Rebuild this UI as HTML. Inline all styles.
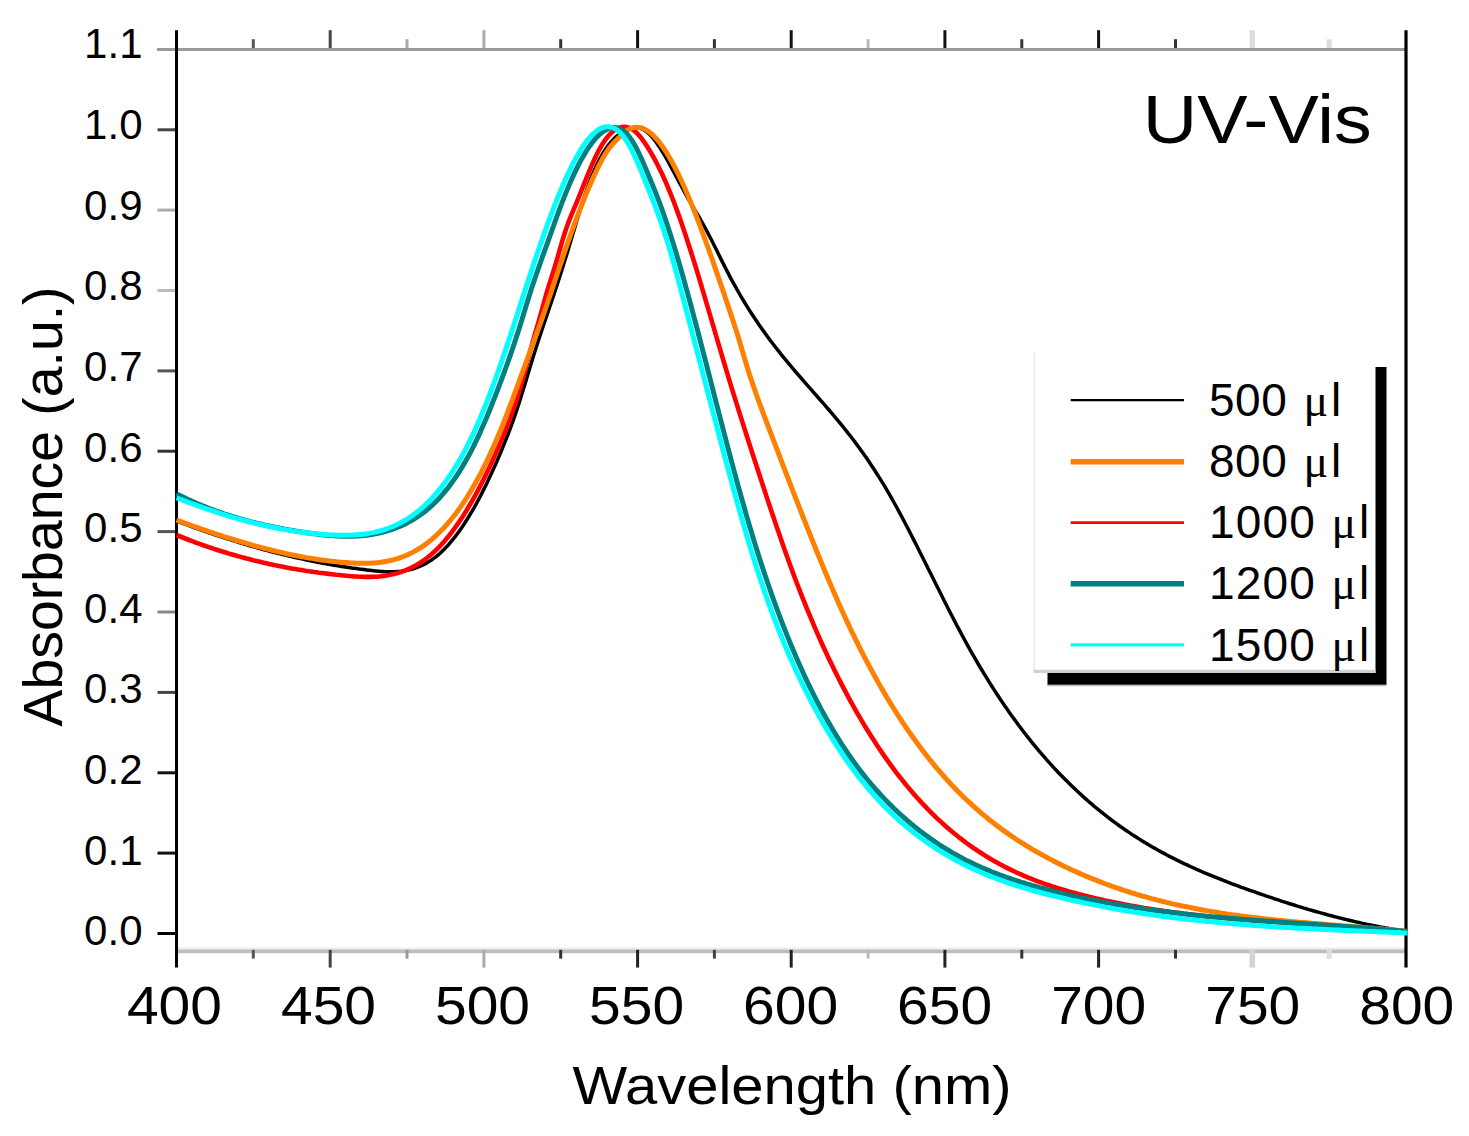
<!DOCTYPE html>
<html lang="en">
<head>
<meta charset="utf-8">
<title>UV-Vis</title>
<style>html,body{margin:0;padding:0;background:#fff;}svg{display:block;}</style>
</head>
<body>
<svg width="1469" height="1136" viewBox="0 0 1469 1136" font-family="'Liberation Sans', sans-serif" fill="#000">
<rect x="0" y="0" width="1469" height="1136" fill="#fff"/>
<line x1="157" y1="49.5" x2="1406.0" y2="49.5" stroke="#9a9a9a" stroke-width="3"/>
<rect x="176.5" y="947.6" width="1229.5" height="2.2" fill="#ececec"/>
<rect x="176.5" y="949.6" width="1229.5" height="3.6" fill="#bdbdbd"/>
<line x1="253.3" y1="39.2" x2="253.3" y2="48.0" stroke="#555" stroke-width="3"/>
<line x1="253.3" y1="949.8" x2="253.3" y2="958.6" stroke="#555" stroke-width="3"/>
<line x1="330.2" y1="30.2" x2="330.2" y2="48.0" stroke="#444" stroke-width="3"/>
<line x1="330.2" y1="949.8" x2="330.2" y2="967.6" stroke="#444" stroke-width="3"/>
<line x1="407.0" y1="39.2" x2="407.0" y2="48.0" stroke="#aaa" stroke-width="3"/>
<line x1="407.0" y1="949.8" x2="407.0" y2="958.6" stroke="#999" stroke-width="3"/>
<line x1="483.9" y1="30.2" x2="483.9" y2="48.0" stroke="#aaa" stroke-width="3"/>
<line x1="483.9" y1="949.8" x2="483.9" y2="967.6" stroke="#aaa" stroke-width="3"/>
<line x1="560.7" y1="39.2" x2="560.7" y2="48.0" stroke="#333" stroke-width="3"/>
<line x1="560.7" y1="949.8" x2="560.7" y2="958.6" stroke="#333" stroke-width="3"/>
<line x1="637.6" y1="30.2" x2="637.6" y2="48.0" stroke="#111" stroke-width="3"/>
<line x1="637.6" y1="949.8" x2="637.6" y2="967.6" stroke="#222" stroke-width="3"/>
<line x1="714.4" y1="39.2" x2="714.4" y2="48.0" stroke="#333" stroke-width="3"/>
<line x1="714.4" y1="949.8" x2="714.4" y2="958.6" stroke="#444" stroke-width="3"/>
<line x1="791.2" y1="30.2" x2="791.2" y2="48.0" stroke="#111" stroke-width="3"/>
<line x1="791.2" y1="949.8" x2="791.2" y2="967.6" stroke="#222" stroke-width="3"/>
<line x1="868.1" y1="39.2" x2="868.1" y2="48.0" stroke="#bbb" stroke-width="3"/>
<line x1="868.1" y1="949.8" x2="868.1" y2="958.6" stroke="#bbb" stroke-width="3"/>
<line x1="944.9" y1="30.2" x2="944.9" y2="48.0" stroke="#111" stroke-width="3"/>
<line x1="944.9" y1="949.8" x2="944.9" y2="967.6" stroke="#222" stroke-width="3"/>
<line x1="1021.8" y1="39.2" x2="1021.8" y2="48.0" stroke="#333" stroke-width="3"/>
<line x1="1021.8" y1="949.8" x2="1021.8" y2="958.6" stroke="#333" stroke-width="3"/>
<line x1="1098.6" y1="30.2" x2="1098.6" y2="48.0" stroke="#111" stroke-width="3"/>
<line x1="1098.6" y1="949.8" x2="1098.6" y2="967.6" stroke="#222" stroke-width="3"/>
<line x1="1175.5" y1="39.2" x2="1175.5" y2="48.0" stroke="#333" stroke-width="3"/>
<line x1="1175.5" y1="949.8" x2="1175.5" y2="958.6" stroke="#333" stroke-width="3"/>
<line x1="1252.3" y1="30.2" x2="1252.3" y2="48.0" stroke="#dcdcdc" stroke-width="5.5"/>
<line x1="1252.3" y1="949.8" x2="1252.3" y2="967.6" stroke="#d4d4d4" stroke-width="5.5"/>
<line x1="1329.2" y1="39.2" x2="1329.2" y2="48.0" stroke="#dcdcdc" stroke-width="5"/>
<line x1="1329.2" y1="949.8" x2="1329.2" y2="958.6" stroke="#dedede" stroke-width="5"/>
<line x1="157.5" y1="129.8" x2="176.5" y2="129.8" stroke="#444" stroke-width="3"/>
<line x1="157.5" y1="210.1" x2="176.5" y2="210.1" stroke="#aaa" stroke-width="3"/>
<line x1="157.5" y1="290.5" x2="176.5" y2="290.5" stroke="#bbb" stroke-width="3"/>
<line x1="157.5" y1="370.9" x2="176.5" y2="370.9" stroke="#555" stroke-width="3"/>
<line x1="157.5" y1="451.2" x2="176.5" y2="451.2" stroke="#333" stroke-width="3"/>
<line x1="157.5" y1="531.6" x2="176.5" y2="531.6" stroke="#555" stroke-width="3"/>
<line x1="157.5" y1="612.0" x2="176.5" y2="612.0" stroke="#888" stroke-width="3"/>
<line x1="157.5" y1="692.4" x2="176.5" y2="692.4" stroke="#444" stroke-width="3"/>
<line x1="157.5" y1="772.8" x2="176.5" y2="772.8" stroke="#111" stroke-width="3"/>
<line x1="157.5" y1="853.1" x2="176.5" y2="853.1" stroke="#111" stroke-width="3"/>
<line x1="157.5" y1="933.5" x2="176.5" y2="933.5" stroke="#000" stroke-width="3"/>
<line x1="176.5" y1="30.2" x2="176.5" y2="967.6" stroke="#000" stroke-width="3"/>
<line x1="1406.0" y1="30.2" x2="1406.0" y2="967.6" stroke="#000" stroke-width="3.2"/>
<path d="M176.5,521.0 L179.0,521.9 L181.5,522.9 L184.0,523.8 L186.5,524.7 L189.0,525.7 L191.5,526.6 L194.0,527.5 L196.5,528.4 L199.0,529.3 L201.5,530.2 L204.0,531.0 L206.5,531.9 L209.0,532.8 L211.5,533.6 L214.0,534.5 L216.5,535.3 L219.0,536.1 L221.5,536.9 L224.0,537.8 L226.5,538.6 L229.0,539.4 L231.5,540.2 L234.0,540.9 L236.5,541.7 L239.0,542.5 L241.5,543.2 L244.0,544.0 L246.5,544.7 L249.0,545.5 L251.5,546.2 L254.0,546.9 L256.5,547.6 L259.0,548.3 L261.5,549.0 L264.0,549.7 L266.5,550.4 L269.0,551.0 L271.5,551.7 L274.0,552.3 L276.5,553.0 L279.0,553.6 L281.5,554.2 L284.0,554.8 L286.5,555.4 L289.0,556.0 L291.5,556.6 L294.0,557.2 L296.5,557.8 L299.0,558.3 L301.5,558.9 L304.0,559.4 L306.5,560.0 L309.0,560.5 L311.5,561.0 L314.0,561.5 L316.5,562.0 L319.0,562.5 L321.5,563.0 L324.0,563.4 L326.5,563.9 L329.0,564.3 L331.5,564.8 L334.0,565.2 L336.5,565.6 L339.0,566.0 L341.5,566.4 L344.0,566.8 L346.5,567.2 L349.0,567.6 L351.5,568.0 L354.0,568.3 L356.5,568.6 L359.0,569.0 L361.5,569.3 L364.0,569.6 L366.5,569.9 L369.0,570.2 L371.5,570.5 L374.0,570.8 L376.5,571.0 L379.0,571.2 L381.5,571.4 L384.0,571.6 L386.5,571.7 L389.0,571.8 L391.5,571.8 L394.0,571.7 L396.5,571.6 L399.0,571.4 L401.5,571.2 L404.0,570.8 L406.5,570.4 L409.0,569.9 L411.5,569.3 L414.0,568.5 L416.5,567.7 L419.0,566.7 L421.5,565.7 L424.0,564.5 L426.5,563.1 L429.0,561.6 L431.5,560.0 L434.0,558.2 L436.5,556.3 L439.0,554.2 L441.5,551.9 L444.0,549.5 L446.5,546.9 L449.0,544.2 L451.5,541.2 L454.0,538.1 L456.5,534.9 L459.0,531.5 L461.5,527.9 L464.0,524.2 L466.5,520.3 L469.0,516.3 L471.5,512.1 L474.0,507.8 L476.5,503.3 L479.0,498.6 L481.5,493.9 L484.0,488.9 L486.5,483.9 L489.0,478.6 L491.5,473.3 L494.0,467.8 L496.5,462.2 L499.0,456.4 L501.5,450.5 L504.0,444.4 L506.5,438.2 L509.0,431.8 L511.5,425.1 L514.0,418.2 L516.5,410.9 L519.0,403.3 L521.5,395.3 L524.0,387.2 L526.5,378.9 L529.0,370.6 L531.5,362.4 L534.0,354.3 L536.5,346.5 L539.0,338.8 L541.5,331.3 L544.0,323.8 L546.5,316.4 L549.0,309.0 L551.5,301.6 L554.0,294.2 L556.5,286.7 L559.0,279.0 L561.5,271.2 L564.0,263.3 L566.5,255.3 L569.0,247.0 L571.5,238.6 L574.0,230.2 L576.5,221.7 L579.0,213.4 L581.5,205.3 L584.0,197.5 L586.5,190.2 L589.0,183.3 L591.5,176.9 L594.0,170.9 L596.5,165.4 L599.0,160.4 L601.5,155.7 L604.0,151.5 L606.5,147.8 L609.0,144.4 L611.5,141.4 L614.0,138.7 L616.5,136.4 L619.0,134.4 L621.5,132.7 L624.0,131.2 L626.5,130.0 L629.0,129.0 L631.5,128.3 L634.0,127.9 L636.5,127.8 L639.0,128.1 L641.5,128.8 L644.0,130.0 L646.5,131.7 L649.0,133.8 L651.5,136.4 L654.0,139.4 L656.5,142.7 L659.0,146.4 L661.5,150.3 L664.0,154.4 L666.5,158.7 L669.0,163.2 L671.5,167.8 L674.0,172.5 L676.5,177.2 L679.0,181.8 L681.5,186.5 L684.0,191.1 L686.5,195.7 L689.0,200.1 L691.5,204.4 L694.0,208.7 L696.5,212.8 L699.0,217.0 L701.5,221.3 L704.0,225.8 L706.5,230.4 L709.0,235.2 L711.5,240.0 L714.0,245.0 L716.5,250.0 L719.0,255.1 L721.5,260.1 L724.0,265.1 L726.5,270.0 L729.0,274.9 L731.5,279.6 L734.0,284.2 L736.5,288.6 L739.0,293.0 L741.5,297.3 L744.0,301.5 L746.5,305.6 L749.0,309.6 L751.5,313.5 L754.0,317.3 L756.5,321.0 L759.0,324.7 L761.5,328.3 L764.0,331.8 L766.5,335.3 L769.0,338.7 L771.5,342.0 L774.0,345.3 L776.5,348.5 L779.0,351.7 L781.5,354.8 L784.0,357.9 L786.5,360.9 L789.0,363.9 L791.5,366.9 L794.0,369.8 L796.5,372.8 L799.0,375.7 L801.5,378.5 L804.0,381.4 L806.5,384.3 L809.0,387.1 L811.5,389.9 L814.0,392.8 L816.5,395.6 L819.0,398.5 L821.5,401.3 L824.0,404.2 L826.5,407.1 L829.0,410.0 L831.5,412.9 L834.0,415.8 L836.5,418.8 L839.0,421.8 L841.5,424.9 L844.0,428.0 L846.5,431.1 L849.0,434.3 L851.5,437.5 L854.0,440.8 L856.5,444.1 L859.0,447.5 L861.5,451.0 L864.0,454.5 L866.5,458.1 L869.0,461.7 L871.5,465.5 L874.0,469.3 L876.5,473.2 L879.0,477.1 L881.5,481.1 L884.0,485.2 L886.5,489.4 L889.0,493.7 L891.5,498.1 L894.0,502.5 L896.5,507.0 L899.0,511.6 L901.5,516.3 L904.0,521.0 L906.5,525.8 L909.0,530.6 L911.5,535.5 L914.0,540.4 L916.5,545.3 L919.0,550.3 L921.5,555.2 L924.0,560.2 L926.5,565.3 L929.0,570.3 L931.5,575.3 L934.0,580.3 L936.5,585.3 L939.0,590.3 L941.5,595.3 L944.0,600.3 L946.5,605.3 L949.0,610.2 L951.5,615.0 L954.0,619.9 L956.5,624.7 L959.0,629.4 L961.5,634.1 L964.0,638.8 L966.5,643.4 L969.0,647.9 L971.5,652.3 L974.0,656.7 L976.5,661.0 L979.0,665.3 L981.5,669.5 L984.0,673.6 L986.5,677.7 L989.0,681.8 L991.5,685.7 L994.0,689.6 L996.5,693.5 L999.0,697.3 L1001.5,701.0 L1004.0,704.7 L1006.5,708.3 L1009.0,711.9 L1011.5,715.5 L1014.0,718.9 L1016.5,722.3 L1019.0,725.7 L1021.5,729.0 L1024.0,732.3 L1026.5,735.5 L1029.0,738.7 L1031.5,741.8 L1034.0,744.9 L1036.5,747.9 L1039.0,750.9 L1041.5,753.8 L1044.0,756.7 L1046.5,759.6 L1049.0,762.4 L1051.5,765.1 L1054.0,767.9 L1056.5,770.5 L1059.0,773.2 L1061.5,775.8 L1064.0,778.3 L1066.5,780.8 L1069.0,783.3 L1071.5,785.7 L1074.0,788.1 L1076.5,790.5 L1079.0,792.8 L1081.5,795.1 L1084.0,797.4 L1086.5,799.6 L1089.0,801.8 L1091.5,803.9 L1094.0,806.1 L1096.5,808.1 L1099.0,810.2 L1101.5,812.2 L1104.0,814.2 L1106.5,816.1 L1109.0,818.1 L1111.5,820.0 L1114.0,821.8 L1116.5,823.7 L1119.0,825.5 L1121.5,827.2 L1124.0,829.0 L1126.5,830.7 L1129.0,832.4 L1131.5,834.1 L1134.0,835.7 L1136.5,837.3 L1139.0,838.9 L1141.5,840.5 L1144.0,842.0 L1146.5,843.5 L1149.0,845.0 L1151.5,846.5 L1154.0,847.9 L1156.5,849.3 L1159.0,850.7 L1161.5,852.1 L1164.0,853.4 L1166.5,854.8 L1169.0,856.1 L1171.5,857.4 L1174.0,858.6 L1176.5,859.9 L1179.0,861.1 L1181.5,862.4 L1184.0,863.6 L1186.5,864.7 L1189.0,865.9 L1191.5,867.0 L1194.0,868.2 L1196.5,869.3 L1199.0,870.4 L1201.5,871.5 L1204.0,872.6 L1206.5,873.6 L1209.0,874.7 L1211.5,875.7 L1214.0,876.7 L1216.5,877.7 L1219.0,878.7 L1221.5,879.7 L1224.0,880.7 L1226.5,881.7 L1229.0,882.6 L1231.5,883.6 L1234.0,884.5 L1236.5,885.4 L1239.0,886.3 L1241.5,887.3 L1244.0,888.2 L1246.5,889.1 L1249.0,890.0 L1251.5,890.8 L1254.0,891.7 L1256.5,892.6 L1259.0,893.5 L1261.5,894.3 L1264.0,895.2 L1266.5,896.1 L1269.0,896.9 L1271.5,897.7 L1274.0,898.6 L1276.5,899.4 L1279.0,900.2 L1281.5,901.1 L1284.0,901.9 L1286.5,902.7 L1289.0,903.5 L1291.5,904.2 L1294.0,905.0 L1296.5,905.8 L1299.0,906.6 L1301.5,907.3 L1304.0,908.1 L1306.5,908.8 L1309.0,909.6 L1311.5,910.3 L1314.0,911.0 L1316.5,911.7 L1319.0,912.4 L1321.5,913.1 L1324.0,913.8 L1326.5,914.5 L1329.0,915.2 L1331.5,915.8 L1334.0,916.5 L1336.5,917.1 L1339.0,917.8 L1341.5,918.4 L1344.0,919.0 L1346.5,919.6 L1349.0,920.2 L1351.5,920.8 L1354.0,921.4 L1356.5,922.0 L1359.0,922.5 L1361.5,923.1 L1364.0,923.6 L1366.5,924.2 L1369.0,924.7 L1371.5,925.2 L1374.0,925.7 L1376.5,926.2 L1379.0,926.7 L1381.5,927.2 L1384.0,927.6 L1386.5,928.1 L1389.0,928.5 L1391.5,929.0 L1394.0,929.4 L1396.5,929.8 L1399.0,930.2 L1401.5,930.6 L1404.0,931.0 L1406.0,931.2" fill="none" stroke="#000000" stroke-width="3.5" stroke-linejoin="round" stroke-linecap="butt"/>
<path d="M176.5,535.0 L179.0,536.0 L181.5,537.0 L184.0,538.0 L186.5,539.0 L189.0,540.0 L191.5,540.9 L194.0,541.8 L196.5,542.8 L199.0,543.7 L201.5,544.6 L204.0,545.5 L206.5,546.3 L209.0,547.2 L211.5,548.0 L214.0,548.9 L216.5,549.7 L219.0,550.5 L221.5,551.3 L224.0,552.0 L226.5,552.8 L229.0,553.6 L231.5,554.3 L234.0,555.0 L236.5,555.7 L239.0,556.4 L241.5,557.1 L244.0,557.8 L246.5,558.5 L249.0,559.1 L251.5,559.7 L254.0,560.4 L256.5,561.0 L259.0,561.6 L261.5,562.2 L264.0,562.8 L266.5,563.3 L269.0,563.9 L271.5,564.4 L274.0,565.0 L276.5,565.5 L279.0,566.0 L281.5,566.5 L284.0,567.0 L286.5,567.5 L289.0,567.9 L291.5,568.4 L294.0,568.8 L296.5,569.3 L299.0,569.7 L301.5,570.1 L304.0,570.5 L306.5,570.9 L309.0,571.3 L311.5,571.6 L314.0,572.0 L316.5,572.3 L319.0,572.7 L321.5,573.0 L324.0,573.3 L326.5,573.6 L329.0,573.9 L331.5,574.2 L334.0,574.5 L336.5,574.8 L339.0,575.0 L341.5,575.3 L344.0,575.5 L346.5,575.8 L349.0,576.0 L351.5,576.2 L354.0,576.4 L356.5,576.5 L359.0,576.7 L361.5,576.8 L364.0,576.9 L366.5,576.9 L369.0,576.9 L371.5,576.9 L374.0,576.8 L376.5,576.7 L379.0,576.5 L381.5,576.2 L384.0,575.9 L386.5,575.6 L389.0,575.1 L391.5,574.6 L394.0,574.1 L396.5,573.4 L399.0,572.7 L401.5,571.8 L404.0,570.9 L406.5,569.9 L409.0,568.8 L411.5,567.7 L414.0,566.4 L416.5,565.0 L419.0,563.5 L421.5,561.8 L424.0,560.1 L426.5,558.3 L429.0,556.3 L431.5,554.2 L434.0,552.0 L436.5,549.6 L439.0,547.1 L441.5,544.5 L444.0,541.7 L446.5,538.8 L449.0,535.7 L451.5,532.5 L454.0,529.2 L456.5,525.7 L459.0,522.1 L461.5,518.4 L464.0,514.5 L466.5,510.5 L469.0,506.3 L471.5,502.0 L474.0,497.6 L476.5,493.1 L479.0,488.4 L481.5,483.5 L484.0,478.6 L486.5,473.5 L489.0,468.3 L491.5,462.9 L494.0,457.4 L496.5,451.8 L499.0,446.0 L501.5,440.2 L504.0,434.1 L506.5,427.9 L509.0,421.5 L511.5,414.7 L514.0,407.6 L516.5,400.1 L519.0,392.1 L521.5,383.6 L524.0,374.6 L526.5,365.2 L529.0,355.7 L531.5,346.3 L534.0,337.3 L536.5,328.8 L539.0,320.3 L541.5,311.4 L544.0,302.3 L546.5,293.4 L549.0,285.2 L551.5,277.4 L554.0,269.5 L556.5,261.2 L559.0,252.5 L561.5,243.7 L564.0,235.4 L566.5,227.7 L569.0,220.9 L571.5,214.7 L574.0,208.7 L576.5,202.8 L579.0,196.6 L581.5,190.4 L584.0,184.1 L586.5,177.9 L589.0,171.8 L591.5,165.9 L594.0,160.3 L596.5,155.0 L599.0,150.1 L601.5,145.6 L604.0,141.7 L606.5,138.2 L609.0,135.2 L611.5,132.7 L614.0,130.6 L616.5,129.0 L619.0,127.8 L621.5,127.1 L624.0,126.8 L626.5,127.0 L629.0,127.7 L631.5,128.9 L634.0,130.5 L636.5,132.7 L639.0,135.3 L641.5,138.4 L644.0,141.8 L646.5,145.5 L649.0,149.4 L651.5,153.6 L654.0,158.1 L656.5,162.7 L659.0,167.7 L661.5,172.8 L664.0,178.3 L666.5,183.9 L669.0,189.9 L671.5,196.0 L674.0,202.4 L676.5,209.1 L679.0,216.0 L681.5,223.1 L684.0,230.5 L686.5,238.0 L689.0,245.7 L691.5,253.5 L694.0,261.5 L696.5,269.7 L699.0,277.9 L701.5,286.2 L704.0,294.6 L706.5,303.1 L709.0,311.6 L711.5,320.1 L714.0,328.6 L716.5,337.2 L719.0,345.7 L721.5,354.1 L724.0,362.5 L726.5,370.9 L729.0,379.1 L731.5,387.3 L734.0,395.4 L736.5,403.4 L739.0,411.4 L741.5,419.3 L744.0,427.1 L746.5,435.0 L749.0,442.7 L751.5,450.5 L754.0,458.2 L756.5,465.8 L759.0,473.5 L761.5,481.2 L764.0,488.8 L766.5,496.4 L769.0,503.9 L771.5,511.4 L774.0,518.8 L776.5,526.2 L779.0,533.5 L781.5,540.8 L784.0,547.9 L786.5,555.0 L789.0,562.0 L791.5,568.8 L794.0,575.6 L796.5,582.2 L799.0,588.7 L801.5,595.1 L804.0,601.4 L806.5,607.6 L809.0,613.7 L811.5,619.7 L814.0,625.6 L816.5,631.4 L819.0,637.1 L821.5,642.7 L824.0,648.2 L826.5,653.6 L829.0,658.9 L831.5,664.1 L834.0,669.2 L836.5,674.3 L839.0,679.2 L841.5,684.1 L844.0,688.9 L846.5,693.6 L849.0,698.3 L851.5,702.9 L854.0,707.3 L856.5,711.8 L859.0,716.1 L861.5,720.4 L864.0,724.6 L866.5,728.7 L869.0,732.7 L871.5,736.7 L874.0,740.6 L876.5,744.5 L879.0,748.2 L881.5,751.9 L884.0,755.6 L886.5,759.1 L889.0,762.6 L891.5,766.1 L894.0,769.4 L896.5,772.8 L899.0,776.0 L901.5,779.2 L904.0,782.3 L906.5,785.4 L909.0,788.4 L911.5,791.3 L914.0,794.2 L916.5,797.1 L919.0,799.8 L921.5,802.6 L924.0,805.2 L926.5,807.9 L929.0,810.4 L931.5,812.9 L934.0,815.4 L936.5,817.8 L939.0,820.1 L941.5,822.4 L944.0,824.7 L946.5,826.9 L949.0,829.1 L951.5,831.2 L954.0,833.3 L956.5,835.3 L959.0,837.3 L961.5,839.2 L964.0,841.1 L966.5,843.0 L969.0,844.8 L971.5,846.6 L974.0,848.3 L976.5,850.0 L979.0,851.7 L981.5,853.3 L984.0,854.9 L986.5,856.5 L989.0,858.0 L991.5,859.5 L994.0,860.9 L996.5,862.3 L999.0,863.7 L1001.5,865.0 L1004.0,866.4 L1006.5,867.6 L1009.0,868.9 L1011.5,870.1 L1014.0,871.3 L1016.5,872.5 L1019.0,873.6 L1021.5,874.7 L1024.0,875.8 L1026.5,876.9 L1029.0,877.9 L1031.5,878.9 L1034.0,879.9 L1036.5,880.8 L1039.0,881.8 L1041.5,882.7 L1044.0,883.6 L1046.5,884.5 L1049.0,885.3 L1051.5,886.1 L1054.0,887.0 L1056.5,887.8 L1059.0,888.5 L1061.5,889.3 L1064.0,890.0 L1066.5,890.8 L1069.0,891.5 L1071.5,892.2 L1074.0,892.8 L1076.5,893.5 L1079.0,894.2 L1081.5,894.8 L1084.0,895.5 L1086.5,896.1 L1089.0,896.7 L1091.5,897.3 L1094.0,897.9 L1096.5,898.5 L1099.0,899.0 L1101.5,899.6 L1104.0,900.2 L1106.5,900.7 L1109.0,901.2 L1111.5,901.8 L1114.0,902.3 L1116.5,902.8 L1119.0,903.3 L1121.5,903.8 L1124.0,904.3 L1126.5,904.7 L1129.0,905.2 L1131.5,905.7 L1134.0,906.1 L1136.5,906.6 L1139.0,907.0 L1141.5,907.4 L1144.0,907.9 L1146.5,908.3 L1149.0,908.7 L1151.5,909.1 L1154.0,909.5 L1156.5,909.9 L1159.0,910.2 L1161.5,910.6 L1164.0,911.0 L1166.5,911.3 L1169.0,911.7 L1171.5,912.0 L1174.0,912.4 L1176.5,912.7 L1179.0,913.0 L1181.5,913.3 L1184.0,913.7 L1186.5,914.0 L1189.0,914.3 L1191.5,914.6 L1194.0,914.9 L1196.5,915.1 L1199.0,915.4 L1201.5,915.7 L1204.0,916.0 L1206.5,916.2 L1209.0,916.5 L1211.5,916.8 L1214.0,917.0 L1216.5,917.3 L1219.0,917.5 L1221.5,917.8 L1224.0,918.0 L1226.5,918.2 L1229.0,918.5 L1231.5,918.7 L1234.0,918.9 L1236.5,919.1 L1239.0,919.3 L1241.5,919.5 L1244.0,919.7 L1246.5,920.0 L1249.0,920.2 L1251.5,920.4 L1254.0,920.5 L1256.5,920.7 L1259.0,920.9 L1261.5,921.1 L1264.0,921.3 L1266.5,921.5 L1269.0,921.7 L1271.5,921.9 L1274.0,922.0 L1276.5,922.2 L1279.0,922.4 L1281.5,922.6 L1284.0,922.7 L1286.5,922.9 L1289.0,923.1 L1291.5,923.2 L1294.0,923.4 L1296.5,923.6 L1299.0,923.7 L1301.5,923.9 L1304.0,924.1 L1306.5,924.2 L1309.0,924.4 L1311.5,924.5 L1314.0,924.7 L1316.5,924.9 L1319.0,925.0 L1321.5,925.2 L1324.0,925.3 L1326.5,925.5 L1329.0,925.7 L1331.5,925.8 L1334.0,926.0 L1336.5,926.2 L1339.0,926.3 L1341.5,926.5 L1344.0,926.7 L1346.5,926.8 L1349.0,927.0 L1351.5,927.2 L1354.0,927.4 L1356.5,927.5 L1359.0,927.7 L1361.5,927.9 L1364.0,928.1 L1366.5,928.2 L1369.0,928.4 L1371.5,928.6 L1374.0,928.8 L1376.5,929.0 L1379.0,929.2 L1381.5,929.4 L1384.0,929.6 L1386.5,929.8 L1389.0,930.0 L1391.5,930.2 L1394.0,930.4 L1396.5,930.6 L1399.0,930.9 L1401.5,931.1 L1404.0,931.3 L1406.0,931.5" fill="none" stroke="#ff0000" stroke-width="4.6" stroke-linejoin="round" stroke-linecap="butt"/>
<path d="M176.5,520.0 L179.0,520.9 L181.5,521.8 L184.0,522.8 L186.5,523.7 L189.0,524.6 L191.5,525.5 L194.0,526.4 L196.5,527.2 L199.0,528.1 L201.5,529.0 L204.0,529.9 L206.5,530.7 L209.0,531.6 L211.5,532.4 L214.0,533.3 L216.5,534.1 L219.0,534.9 L221.5,535.7 L224.0,536.6 L226.5,537.4 L229.0,538.1 L231.5,538.9 L234.0,539.7 L236.5,540.5 L239.0,541.2 L241.5,542.0 L244.0,542.7 L246.5,543.4 L249.0,544.2 L251.5,544.9 L254.0,545.6 L256.5,546.3 L259.0,546.9 L261.5,547.6 L264.0,548.3 L266.5,548.9 L269.0,549.5 L271.5,550.2 L274.0,550.8 L276.5,551.4 L279.0,552.0 L281.5,552.5 L284.0,553.1 L286.5,553.7 L289.0,554.2 L291.5,554.7 L294.0,555.2 L296.5,555.7 L299.0,556.2 L301.5,556.7 L304.0,557.1 L306.5,557.6 L309.0,558.0 L311.5,558.4 L314.0,558.8 L316.5,559.2 L319.0,559.6 L321.5,560.0 L324.0,560.3 L326.5,560.6 L329.0,560.9 L331.5,561.2 L334.0,561.5 L336.5,561.8 L339.0,562.0 L341.5,562.2 L344.0,562.5 L346.5,562.6 L349.0,562.8 L351.5,563.0 L354.0,563.1 L356.5,563.2 L359.0,563.3 L361.5,563.3 L364.0,563.3 L366.5,563.3 L369.0,563.2 L371.5,563.1 L374.0,562.9 L376.5,562.7 L379.0,562.5 L381.5,562.1 L384.0,561.7 L386.5,561.3 L389.0,560.8 L391.5,560.2 L394.0,559.6 L396.5,558.9 L399.0,558.1 L401.5,557.2 L404.0,556.2 L406.5,555.2 L409.0,554.1 L411.5,552.9 L414.0,551.6 L416.5,550.2 L419.0,548.7 L421.5,547.1 L424.0,545.4 L426.5,543.6 L429.0,541.6 L431.5,539.6 L434.0,537.5 L436.5,535.2 L439.0,532.8 L441.5,530.3 L444.0,527.7 L446.5,524.9 L449.0,522.0 L451.5,519.0 L454.0,515.9 L456.5,512.6 L459.0,509.1 L461.5,505.6 L464.0,501.9 L466.5,498.0 L469.0,494.0 L471.5,489.9 L474.0,485.6 L476.5,481.1 L479.0,476.5 L481.5,471.8 L484.0,466.8 L486.5,461.8 L489.0,456.5 L491.5,451.1 L494.0,445.6 L496.5,439.8 L499.0,433.9 L501.5,427.9 L504.0,421.6 L506.5,415.2 L509.0,408.7 L511.5,402.1 L514.0,395.4 L516.5,388.6 L519.0,381.8 L521.5,374.9 L524.0,368.1 L526.5,361.2 L529.0,354.4 L531.5,347.6 L534.0,340.8 L536.5,334.0 L539.0,327.1 L541.5,320.1 L544.0,312.9 L546.5,305.7 L549.0,298.3 L551.5,290.9 L554.0,283.4 L556.5,275.9 L559.0,268.4 L561.5,261.1 L564.0,253.8 L566.5,246.5 L569.0,239.4 L571.5,232.4 L574.0,225.5 L576.5,218.7 L579.0,212.1 L581.5,205.6 L584.0,199.3 L586.5,193.1 L589.0,187.2 L591.5,181.4 L594.0,175.8 L596.5,170.5 L599.0,165.4 L601.5,160.6 L604.0,156.1 L606.5,152.0 L609.0,148.4 L611.5,145.2 L614.0,142.5 L616.5,139.9 L619.0,137.5 L621.5,135.1 L624.0,132.8 L626.5,130.8 L629.0,129.2 L631.5,128.1 L634.0,127.5 L636.5,127.2 L639.0,127.4 L641.5,127.9 L644.0,128.9 L646.5,130.2 L649.0,131.9 L651.5,133.9 L654.0,136.3 L656.5,138.9 L659.0,141.9 L661.5,145.2 L664.0,148.8 L666.5,152.6 L669.0,156.7 L671.5,161.1 L674.0,165.7 L676.5,170.6 L679.0,175.7 L681.5,181.0 L684.0,186.5 L686.5,192.2 L689.0,198.0 L691.5,204.1 L694.0,210.3 L696.5,216.7 L699.0,223.2 L701.5,229.8 L704.0,236.6 L706.5,243.5 L709.0,250.4 L711.5,257.5 L714.0,264.6 L716.5,271.9 L719.0,279.1 L721.5,286.4 L724.0,293.8 L726.5,301.2 L729.0,308.6 L731.5,316.1 L734.0,323.7 L736.5,331.5 L739.0,339.6 L741.5,348.0 L744.0,356.5 L746.5,364.8 L749.0,372.9 L751.5,380.6 L754.0,387.9 L756.5,395.0 L759.0,402.0 L761.5,408.7 L764.0,415.3 L766.5,421.9 L769.0,428.5 L771.5,435.1 L774.0,441.7 L776.5,448.2 L779.0,454.7 L781.5,461.3 L784.0,467.8 L786.5,474.3 L789.0,480.8 L791.5,487.3 L794.0,493.8 L796.5,500.2 L799.0,506.6 L801.5,513.0 L804.0,519.4 L806.5,525.7 L809.0,532.0 L811.5,538.3 L814.0,544.5 L816.5,550.7 L819.0,556.9 L821.5,562.9 L824.0,569.0 L826.5,574.9 L829.0,580.9 L831.5,586.7 L834.0,592.5 L836.5,598.2 L839.0,603.9 L841.5,609.5 L844.0,615.0 L846.5,620.4 L849.0,625.7 L851.5,631.0 L854.0,636.2 L856.5,641.3 L859.0,646.3 L861.5,651.3 L864.0,656.2 L866.5,661.0 L869.0,665.7 L871.5,670.3 L874.0,674.9 L876.5,679.4 L879.0,683.9 L881.5,688.2 L884.0,692.5 L886.5,696.7 L889.0,700.9 L891.5,705.0 L894.0,709.0 L896.5,713.0 L899.0,716.9 L901.5,720.7 L904.0,724.4 L906.5,728.1 L909.0,731.8 L911.5,735.3 L914.0,738.8 L916.5,742.3 L919.0,745.7 L921.5,749.0 L924.0,752.3 L926.5,755.5 L929.0,758.7 L931.5,761.8 L934.0,764.8 L936.5,767.8 L939.0,770.7 L941.5,773.6 L944.0,776.5 L946.5,779.3 L949.0,782.0 L951.5,784.7 L954.0,787.3 L956.5,789.9 L959.0,792.4 L961.5,794.9 L964.0,797.4 L966.5,799.8 L969.0,802.1 L971.5,804.4 L974.0,806.7 L976.5,808.9 L979.0,811.1 L981.5,813.3 L984.0,815.4 L986.5,817.4 L989.0,819.5 L991.5,821.5 L994.0,823.4 L996.5,825.3 L999.0,827.2 L1001.5,829.1 L1004.0,830.9 L1006.5,832.6 L1009.0,834.4 L1011.5,836.1 L1014.0,837.8 L1016.5,839.5 L1019.0,841.1 L1021.5,842.7 L1024.0,844.2 L1026.5,845.8 L1029.0,847.3 L1031.5,848.8 L1034.0,850.3 L1036.5,851.7 L1039.0,853.1 L1041.5,854.5 L1044.0,855.9 L1046.5,857.2 L1049.0,858.6 L1051.5,859.9 L1054.0,861.2 L1056.5,862.5 L1059.0,863.7 L1061.5,865.0 L1064.0,866.2 L1066.5,867.4 L1069.0,868.6 L1071.5,869.7 L1074.0,870.9 L1076.5,872.0 L1079.0,873.1 L1081.5,874.2 L1084.0,875.3 L1086.5,876.4 L1089.0,877.4 L1091.5,878.4 L1094.0,879.4 L1096.5,880.4 L1099.0,881.4 L1101.5,882.4 L1104.0,883.3 L1106.5,884.3 L1109.0,885.2 L1111.5,886.1 L1114.0,887.0 L1116.5,887.8 L1119.0,888.7 L1121.5,889.5 L1124.0,890.4 L1126.5,891.2 L1129.0,892.0 L1131.5,892.8 L1134.0,893.5 L1136.5,894.3 L1139.0,895.0 L1141.5,895.8 L1144.0,896.5 L1146.5,897.2 L1149.0,897.9 L1151.5,898.6 L1154.0,899.2 L1156.5,899.9 L1159.0,900.5 L1161.5,901.2 L1164.0,901.8 L1166.5,902.4 L1169.0,903.0 L1171.5,903.6 L1174.0,904.1 L1176.5,904.7 L1179.0,905.2 L1181.5,905.8 L1184.0,906.3 L1186.5,906.8 L1189.0,907.3 L1191.5,907.8 L1194.0,908.3 L1196.5,908.8 L1199.0,909.3 L1201.5,909.7 L1204.0,910.2 L1206.5,910.6 L1209.0,911.1 L1211.5,911.5 L1214.0,911.9 L1216.5,912.3 L1219.0,912.7 L1221.5,913.1 L1224.0,913.5 L1226.5,913.9 L1229.0,914.2 L1231.5,914.6 L1234.0,915.0 L1236.5,915.3 L1239.0,915.6 L1241.5,916.0 L1244.0,916.3 L1246.5,916.6 L1249.0,916.9 L1251.5,917.2 L1254.0,917.5 L1256.5,917.8 L1259.0,918.1 L1261.5,918.4 L1264.0,918.7 L1266.5,919.0 L1269.0,919.2 L1271.5,919.5 L1274.0,919.8 L1276.5,920.0 L1279.0,920.3 L1281.5,920.5 L1284.0,920.8 L1286.5,921.0 L1289.0,921.2 L1291.5,921.5 L1294.0,921.7 L1296.5,921.9 L1299.0,922.2 L1301.5,922.4 L1304.0,922.6 L1306.5,922.8 L1309.0,923.0 L1311.5,923.2 L1314.0,923.4 L1316.5,923.6 L1319.0,923.9 L1321.5,924.1 L1324.0,924.3 L1326.5,924.5 L1329.0,924.7 L1331.5,924.9 L1334.0,925.1 L1336.5,925.3 L1339.0,925.5 L1341.5,925.7 L1344.0,925.9 L1346.5,926.1 L1349.0,926.3 L1351.5,926.5 L1354.0,926.7 L1356.5,926.9 L1359.0,927.1 L1361.5,927.3 L1364.0,927.5 L1366.5,927.7 L1369.0,927.9 L1371.5,928.1 L1374.0,928.3 L1376.5,928.5 L1379.0,928.7 L1381.5,928.9 L1384.0,929.2 L1386.5,929.4 L1389.0,929.6 L1391.5,929.8 L1394.0,930.1 L1396.5,930.3 L1399.0,930.6 L1401.5,930.8 L1404.0,931.0 L1406.0,931.3" fill="none" stroke="#ff8000" stroke-width="5.0" stroke-linejoin="round" stroke-linecap="butt"/>
<path d="M176.5,493.8 L179.0,495.1 L181.5,496.3 L184.0,497.5 L186.5,498.7 L189.0,499.9 L191.5,501.0 L194.0,502.1 L196.5,503.2 L199.0,504.3 L201.5,505.4 L204.0,506.4 L206.5,507.4 L209.0,508.4 L211.5,509.3 L214.0,510.2 L216.5,511.2 L219.0,512.0 L221.5,512.9 L224.0,513.8 L226.5,514.6 L229.0,515.4 L231.5,516.2 L234.0,517.0 L236.5,517.7 L239.0,518.5 L241.5,519.2 L244.0,519.9 L246.5,520.6 L249.0,521.2 L251.5,521.9 L254.0,522.5 L256.5,523.1 L259.0,523.7 L261.5,524.3 L264.0,524.9 L266.5,525.5 L269.0,526.0 L271.5,526.5 L274.0,527.0 L276.5,527.5 L279.0,528.0 L281.5,528.5 L284.0,529.0 L286.5,529.4 L289.0,529.9 L291.5,530.3 L294.0,530.7 L296.5,531.1 L299.0,531.5 L301.5,531.9 L304.0,532.3 L306.5,532.7 L309.0,533.1 L311.5,533.4 L314.0,533.7 L316.5,534.1 L319.0,534.4 L321.5,534.7 L324.0,535.0 L326.5,535.2 L329.0,535.4 L331.5,535.6 L334.0,535.8 L336.5,536.0 L339.0,536.1 L341.5,536.2 L344.0,536.3 L346.5,536.3 L349.0,536.3 L351.5,536.3 L354.0,536.2 L356.5,536.1 L359.0,535.9 L361.5,535.7 L364.0,535.5 L366.5,535.2 L369.0,534.9 L371.5,534.5 L374.0,534.1 L376.5,533.6 L379.0,533.1 L381.5,532.5 L384.0,531.8 L386.5,531.1 L389.0,530.4 L391.5,529.6 L394.0,528.7 L396.5,527.7 L399.0,526.7 L401.5,525.6 L404.0,524.5 L406.5,523.2 L409.0,521.9 L411.5,520.5 L414.0,519.1 L416.5,517.5 L419.0,515.8 L421.5,514.0 L424.0,512.2 L426.5,510.2 L429.0,508.0 L431.5,505.8 L434.0,503.5 L436.5,501.0 L439.0,498.4 L441.5,495.6 L444.0,492.7 L446.5,489.7 L449.0,486.5 L451.5,483.1 L454.0,479.6 L456.5,476.0 L459.0,472.1 L461.5,468.1 L464.0,463.9 L466.5,459.6 L469.0,455.0 L471.5,450.3 L474.0,445.4 L476.5,440.2 L479.0,434.9 L481.5,429.3 L484.0,423.6 L486.5,417.7 L489.0,411.7 L491.5,405.5 L494.0,399.2 L496.5,392.8 L499.0,386.2 L501.5,379.6 L504.0,372.8 L506.5,366.0 L509.0,358.9 L511.5,351.8 L514.0,344.4 L516.5,336.8 L519.0,328.9 L521.5,320.9 L524.0,312.7 L526.5,304.5 L529.0,296.4 L531.5,288.6 L534.0,281.1 L536.5,273.8 L539.0,266.6 L541.5,259.5 L544.0,252.5 L546.5,245.6 L549.0,238.6 L551.5,231.5 L554.0,224.5 L556.5,217.5 L559.0,210.7 L561.5,204.0 L564.0,197.6 L566.5,191.4 L569.0,185.4 L571.5,179.6 L574.0,174.1 L576.5,168.9 L579.0,163.9 L581.5,159.2 L584.0,154.9 L586.5,150.7 L589.0,146.9 L591.5,143.5 L594.0,140.3 L596.5,137.4 L599.0,134.9 L601.5,132.8 L604.0,131.0 L606.5,129.5 L609.0,128.4 L611.5,127.8 L614.0,127.5 L616.5,127.7 L619.0,128.4 L621.5,129.6 L624.0,131.3 L626.5,133.5 L629.0,136.4 L631.5,139.8 L634.0,143.8 L636.5,148.4 L639.0,153.5 L641.5,158.9 L644.0,164.6 L646.5,170.5 L649.0,176.4 L651.5,182.5 L654.0,188.6 L656.5,194.9 L659.0,201.4 L661.5,208.2 L664.0,215.3 L666.5,222.6 L669.0,230.2 L671.5,238.0 L674.0,246.1 L676.5,254.3 L679.0,262.8 L681.5,271.5 L684.0,280.3 L686.5,289.3 L689.0,298.4 L691.5,307.7 L694.0,317.1 L696.5,326.5 L699.0,336.0 L701.5,345.6 L704.0,355.3 L706.5,364.9 L709.0,374.7 L711.5,384.4 L714.0,394.1 L716.5,403.8 L719.0,413.5 L721.5,423.2 L724.0,432.8 L726.5,442.4 L729.0,451.9 L731.5,461.3 L734.0,470.6 L736.5,479.9 L739.0,489.0 L741.5,498.0 L744.0,506.8 L746.5,515.6 L749.0,524.1 L751.5,532.5 L754.0,540.7 L756.5,548.8 L759.0,556.7 L761.5,564.4 L764.0,572.0 L766.5,579.5 L769.0,586.8 L771.5,593.9 L774.0,601.0 L776.5,607.8 L779.0,614.5 L781.5,621.1 L784.0,627.6 L786.5,633.9 L789.0,640.1 L791.5,646.2 L794.0,652.1 L796.5,658.0 L799.0,663.7 L801.5,669.3 L804.0,674.7 L806.5,680.1 L809.0,685.3 L811.5,690.4 L814.0,695.5 L816.5,700.4 L819.0,705.2 L821.5,709.9 L824.0,714.5 L826.5,718.9 L829.0,723.3 L831.5,727.6 L834.0,731.8 L836.5,735.9 L839.0,739.9 L841.5,743.9 L844.0,747.7 L846.5,751.4 L849.0,755.1 L851.5,758.7 L854.0,762.2 L856.5,765.6 L859.0,768.9 L861.5,772.2 L864.0,775.4 L866.5,778.5 L869.0,781.5 L871.5,784.5 L874.0,787.4 L876.5,790.3 L879.0,793.0 L881.5,795.7 L884.0,798.4 L886.5,801.0 L889.0,803.5 L891.5,806.0 L894.0,808.5 L896.5,810.8 L899.0,813.2 L901.5,815.5 L904.0,817.7 L906.5,819.9 L909.0,822.0 L911.5,824.1 L914.0,826.2 L916.5,828.2 L919.0,830.2 L921.5,832.1 L924.0,834.0 L926.5,835.8 L929.0,837.6 L931.5,839.4 L934.0,841.1 L936.5,842.8 L939.0,844.5 L941.5,846.1 L944.0,847.7 L946.5,849.2 L949.0,850.7 L951.5,852.2 L954.0,853.6 L956.5,855.0 L959.0,856.4 L961.5,857.8 L964.0,859.1 L966.5,860.4 L969.0,861.6 L971.5,862.8 L974.0,864.0 L976.5,865.2 L979.0,866.3 L981.5,867.5 L984.0,868.5 L986.5,869.6 L989.0,870.6 L991.5,871.7 L994.0,872.7 L996.5,873.6 L999.0,874.6 L1001.5,875.5 L1004.0,876.4 L1006.5,877.3 L1009.0,878.2 L1011.5,879.0 L1014.0,879.9 L1016.5,880.7 L1019.0,881.5 L1021.5,882.3 L1024.0,883.0 L1026.5,883.8 L1029.0,884.5 L1031.5,885.3 L1034.0,886.0 L1036.5,886.7 L1039.0,887.4 L1041.5,888.1 L1044.0,888.7 L1046.5,889.4 L1049.0,890.1 L1051.5,890.7 L1054.0,891.3 L1056.5,892.0 L1059.0,892.6 L1061.5,893.2 L1064.0,893.8 L1066.5,894.4 L1069.0,895.0 L1071.5,895.5 L1074.0,896.1 L1076.5,896.6 L1079.0,897.2 L1081.5,897.7 L1084.0,898.3 L1086.5,898.8 L1089.0,899.3 L1091.5,899.8 L1094.0,900.3 L1096.5,900.8 L1099.0,901.3 L1101.5,901.8 L1104.0,902.2 L1106.5,902.7 L1109.0,903.1 L1111.5,903.6 L1114.0,904.0 L1116.5,904.5 L1119.0,904.9 L1121.5,905.3 L1124.0,905.7 L1126.5,906.1 L1129.0,906.5 L1131.5,906.9 L1134.0,907.3 L1136.5,907.7 L1139.0,908.1 L1141.5,908.4 L1144.0,908.8 L1146.5,909.2 L1149.0,909.5 L1151.5,909.9 L1154.0,910.2 L1156.5,910.5 L1159.0,910.9 L1161.5,911.2 L1164.0,911.5 L1166.5,911.8 L1169.0,912.1 L1171.5,912.4 L1174.0,912.7 L1176.5,913.0 L1179.0,913.3 L1181.5,913.6 L1184.0,913.9 L1186.5,914.1 L1189.0,914.4 L1191.5,914.7 L1194.0,914.9 L1196.5,915.2 L1199.0,915.4 L1201.5,915.7 L1204.0,915.9 L1206.5,916.2 L1209.0,916.4 L1211.5,916.7 L1214.0,916.9 L1216.5,917.1 L1219.0,917.3 L1221.5,917.6 L1224.0,917.8 L1226.5,918.0 L1229.0,918.2 L1231.5,918.4 L1234.0,918.6 L1236.5,918.8 L1239.0,919.0 L1241.5,919.2 L1244.0,919.4 L1246.5,919.6 L1249.0,919.8 L1251.5,920.0 L1254.0,920.2 L1256.5,920.4 L1259.0,920.6 L1261.5,920.7 L1264.0,920.9 L1266.5,921.1 L1269.0,921.3 L1271.5,921.5 L1274.0,921.6 L1276.5,921.8 L1279.0,922.0 L1281.5,922.2 L1284.0,922.3 L1286.5,922.5 L1289.0,922.7 L1291.5,922.8 L1294.0,923.0 L1296.5,923.2 L1299.0,923.3 L1301.5,923.5 L1304.0,923.7 L1306.5,923.8 L1309.0,924.0 L1311.5,924.2 L1314.0,924.3 L1316.5,924.5 L1319.0,924.7 L1321.5,924.8 L1324.0,925.0 L1326.5,925.2 L1329.0,925.4 L1331.5,925.5 L1334.0,925.7 L1336.5,925.9 L1339.0,926.0 L1341.5,926.2 L1344.0,926.4 L1346.5,926.6 L1349.0,926.7 L1351.5,926.9 L1354.0,927.1 L1356.5,927.3 L1359.0,927.5 L1361.5,927.7 L1364.0,927.9 L1366.5,928.0 L1369.0,928.2 L1371.5,928.4 L1374.0,928.6 L1376.5,928.8 L1379.0,929.0 L1381.5,929.2 L1384.0,929.4 L1386.5,929.7 L1389.0,929.9 L1391.5,930.1 L1394.0,930.3 L1396.5,930.5 L1399.0,930.8 L1401.5,931.0 L1404.0,931.2 L1406.5,931.5 L1407.0,931.5" fill="none" stroke="#008080" stroke-width="5.0" stroke-linejoin="round" stroke-linecap="butt"/>
<path d="M176.5,497.8 L179.0,498.8 L181.5,499.7 L184.0,500.7 L186.5,501.6 L189.0,502.6 L191.5,503.5 L194.0,504.4 L196.5,505.3 L199.0,506.2 L201.5,507.1 L204.0,508.0 L206.5,508.8 L209.0,509.7 L211.5,510.5 L214.0,511.3 L216.5,512.2 L219.0,513.0 L221.5,513.8 L224.0,514.5 L226.5,515.3 L229.0,516.1 L231.5,516.8 L234.0,517.6 L236.5,518.3 L239.0,519.0 L241.5,519.7 L244.0,520.4 L246.5,521.0 L249.0,521.7 L251.5,522.3 L254.0,523.0 L256.5,523.6 L259.0,524.2 L261.5,524.8 L264.0,525.4 L266.5,525.9 L269.0,526.5 L271.5,527.0 L274.0,527.5 L276.5,528.0 L279.0,528.5 L281.5,529.0 L284.0,529.4 L286.5,529.9 L289.0,530.3 L291.5,530.7 L294.0,531.1 L296.5,531.5 L299.0,531.8 L301.5,532.2 L304.0,532.5 L306.5,532.8 L309.0,533.1 L311.5,533.4 L314.0,533.6 L316.5,533.8 L319.0,534.1 L321.5,534.3 L324.0,534.5 L326.5,534.6 L329.0,534.8 L331.5,534.9 L334.0,535.0 L336.5,535.1 L339.0,535.2 L341.5,535.2 L344.0,535.2 L346.5,535.2 L349.0,535.2 L351.5,535.1 L354.0,535.0 L356.5,534.8 L359.0,534.6 L361.5,534.4 L364.0,534.1 L366.5,533.8 L369.0,533.4 L371.5,532.9 L374.0,532.4 L376.5,531.8 L379.0,531.2 L381.5,530.5 L384.0,529.8 L386.5,528.9 L389.0,528.0 L391.5,527.0 L394.0,526.0 L396.5,524.8 L399.0,523.6 L401.5,522.3 L404.0,520.9 L406.5,519.4 L409.0,517.8 L411.5,516.1 L414.0,514.3 L416.5,512.4 L419.0,510.4 L421.5,508.3 L424.0,506.1 L426.5,503.7 L429.0,501.3 L431.5,498.7 L434.0,496.0 L436.5,493.1 L439.0,490.2 L441.5,487.1 L444.0,483.8 L446.5,480.4 L449.0,476.8 L451.5,473.1 L454.0,469.3 L456.5,465.2 L459.0,461.0 L461.5,456.7 L464.0,452.1 L466.5,447.4 L469.0,442.5 L471.5,437.4 L474.0,432.1 L476.5,426.6 L479.0,421.0 L481.5,415.1 L484.0,409.0 L486.5,402.8 L489.0,396.3 L491.5,389.7 L494.0,383.0 L496.5,376.1 L499.0,369.0 L501.5,361.8 L504.0,354.5 L506.5,347.1 L509.0,339.6 L511.5,332.1 L514.0,324.4 L516.5,316.7 L519.0,309.0 L521.5,301.2 L524.0,293.5 L526.5,285.8 L529.0,278.2 L531.5,270.6 L534.0,263.1 L536.5,255.7 L539.0,248.4 L541.5,241.2 L544.0,234.1 L546.5,227.1 L549.0,220.3 L551.5,213.6 L554.0,207.1 L556.5,200.7 L559.0,194.5 L561.5,188.5 L564.0,182.7 L566.5,177.1 L569.0,171.8 L571.5,166.6 L574.0,161.7 L576.5,157.1 L579.0,152.7 L581.5,148.6 L584.0,144.9 L586.5,141.4 L589.0,138.3 L591.5,135.5 L594.0,133.1 L596.5,131.0 L599.0,129.3 L601.5,128.1 L604.0,127.2 L606.5,126.8 L609.0,126.8 L611.5,127.2 L614.0,128.2 L616.5,129.6 L619.0,131.6 L621.5,134.0 L624.0,137.1 L626.5,140.7 L629.0,144.9 L631.5,149.6 L634.0,154.7 L636.5,160.1 L639.0,165.9 L641.5,171.8 L644.0,178.0 L646.5,184.2 L649.0,190.5 L651.5,196.8 L654.0,203.2 L656.5,209.8 L659.0,216.6 L661.5,223.7 L664.0,231.1 L666.5,238.9 L669.0,247.1 L671.5,255.6 L674.0,264.4 L676.5,273.4 L679.0,282.6 L681.5,292.0 L684.0,301.5 L686.5,311.0 L689.0,320.6 L691.5,330.1 L694.0,339.6 L696.5,349.2 L699.0,358.7 L701.5,368.2 L704.0,377.8 L706.5,387.4 L709.0,397.0 L711.5,406.5 L714.0,416.1 L716.5,425.6 L719.0,435.2 L721.5,444.6 L724.0,454.0 L726.5,463.4 L729.0,472.7 L731.5,481.9 L734.0,491.0 L736.5,500.0 L739.0,508.9 L741.5,517.7 L744.0,526.4 L746.5,534.9 L749.0,543.3 L751.5,551.6 L754.0,559.6 L756.5,567.5 L759.0,575.2 L761.5,582.8 L764.0,590.1 L766.5,597.3 L769.0,604.3 L771.5,611.2 L774.0,617.8 L776.5,624.4 L779.0,630.8 L781.5,637.0 L784.0,643.1 L786.5,649.0 L789.0,654.9 L791.5,660.5 L794.0,666.1 L796.5,671.6 L799.0,676.9 L801.5,682.1 L804.0,687.2 L806.5,692.3 L809.0,697.2 L811.5,702.0 L814.0,706.7 L816.5,711.4 L819.0,715.9 L821.5,720.4 L824.0,724.7 L826.5,729.0 L829.0,733.2 L831.5,737.3 L834.0,741.3 L836.5,745.3 L839.0,749.1 L841.5,752.9 L844.0,756.6 L846.5,760.2 L849.0,763.7 L851.5,767.2 L854.0,770.6 L856.5,773.9 L859.0,777.1 L861.5,780.3 L864.0,783.4 L866.5,786.4 L869.0,789.4 L871.5,792.3 L874.0,795.2 L876.5,797.9 L879.0,800.6 L881.5,803.3 L884.0,805.9 L886.5,808.4 L889.0,810.9 L891.5,813.3 L894.0,815.7 L896.5,818.0 L899.0,820.3 L901.5,822.5 L904.0,824.6 L906.5,826.7 L909.0,828.8 L911.5,830.8 L914.0,832.8 L916.5,834.7 L919.0,836.6 L921.5,838.5 L924.0,840.3 L926.5,842.1 L929.0,843.8 L931.5,845.5 L934.0,847.1 L936.5,848.8 L939.0,850.4 L941.5,851.9 L944.0,853.4 L946.5,854.9 L949.0,856.4 L951.5,857.8 L954.0,859.2 L956.5,860.6 L959.0,861.9 L961.5,863.2 L964.0,864.5 L966.5,865.7 L969.0,866.9 L971.5,868.1 L974.0,869.3 L976.5,870.4 L979.0,871.5 L981.5,872.6 L984.0,873.7 L986.5,874.7 L989.0,875.8 L991.5,876.7 L994.0,877.7 L996.5,878.7 L999.0,879.6 L1001.5,880.5 L1004.0,881.4 L1006.5,882.3 L1009.0,883.1 L1011.5,884.0 L1014.0,884.8 L1016.5,885.6 L1019.0,886.4 L1021.5,887.1 L1024.0,887.9 L1026.5,888.6 L1029.0,889.4 L1031.5,890.1 L1034.0,890.8 L1036.5,891.5 L1039.0,892.1 L1041.5,892.8 L1044.0,893.5 L1046.5,894.1 L1049.0,894.8 L1051.5,895.4 L1054.0,896.0 L1056.5,896.6 L1059.0,897.2 L1061.5,897.8 L1064.0,898.4 L1066.5,899.0 L1069.0,899.6 L1071.5,900.2 L1074.0,900.7 L1076.5,901.3 L1079.0,901.8 L1081.5,902.4 L1084.0,902.9 L1086.5,903.4 L1089.0,903.9 L1091.5,904.4 L1094.0,904.9 L1096.5,905.4 L1099.0,905.9 L1101.5,906.4 L1104.0,906.9 L1106.5,907.4 L1109.0,907.8 L1111.5,908.3 L1114.0,908.7 L1116.5,909.2 L1119.0,909.6 L1121.5,910.0 L1124.0,910.5 L1126.5,910.9 L1129.0,911.3 L1131.5,911.7 L1134.0,912.1 L1136.5,912.5 L1139.0,912.9 L1141.5,913.3 L1144.0,913.7 L1146.5,914.0 L1149.0,914.4 L1151.5,914.7 L1154.0,915.1 L1156.5,915.4 L1159.0,915.8 L1161.5,916.1 L1164.0,916.5 L1166.5,916.8 L1169.0,917.1 L1171.5,917.4 L1174.0,917.7 L1176.5,918.0 L1179.0,918.3 L1181.5,918.6 L1184.0,918.9 L1186.5,919.2 L1189.0,919.5 L1191.5,919.8 L1194.0,920.1 L1196.5,920.3 L1199.0,920.6 L1201.5,920.8 L1204.0,921.1 L1206.5,921.4 L1209.0,921.6 L1211.5,921.8 L1214.0,922.1 L1216.5,922.3 L1219.0,922.5 L1221.5,922.8 L1224.0,923.0 L1226.5,923.2 L1229.0,923.4 L1231.5,923.6 L1234.0,923.9 L1236.5,924.1 L1239.0,924.3 L1241.5,924.5 L1244.0,924.7 L1246.5,924.8 L1249.0,925.0 L1251.5,925.2 L1254.0,925.4 L1256.5,925.6 L1259.0,925.8 L1261.5,925.9 L1264.0,926.1 L1266.5,926.3 L1269.0,926.4 L1271.5,926.6 L1274.0,926.7 L1276.5,926.9 L1279.0,927.1 L1281.5,927.2 L1284.0,927.4 L1286.5,927.5 L1289.0,927.6 L1291.5,927.8 L1294.0,927.9 L1296.5,928.1 L1299.0,928.2 L1301.5,928.3 L1304.0,928.5 L1306.5,928.6 L1309.0,928.7 L1311.5,928.8 L1314.0,929.0 L1316.5,929.1 L1319.0,929.2 L1321.5,929.3 L1324.0,929.5 L1326.5,929.6 L1329.0,929.7 L1331.5,929.8 L1334.0,929.9 L1336.5,930.0 L1339.0,930.1 L1341.5,930.2 L1344.0,930.4 L1346.5,930.5 L1349.0,930.6 L1351.5,930.7 L1354.0,930.8 L1356.5,930.9 L1359.0,931.0 L1361.5,931.1 L1364.0,931.2 L1366.5,931.3 L1369.0,931.4 L1371.5,931.5 L1374.0,931.6 L1376.5,931.7 L1379.0,931.8 L1381.5,931.9 L1384.0,932.0 L1386.5,932.1 L1389.0,932.2 L1391.5,932.3 L1394.0,932.4 L1396.5,932.5 L1399.0,932.6 L1401.5,932.8 L1404.0,932.9 L1406.5,933.0 L1407.5,933.0" fill="none" stroke="#00ffff" stroke-width="5.0" stroke-linejoin="round" stroke-linecap="butt"/>
<text x="142.5" y="945.3" font-size="42" text-anchor="end">0.0</text>
<text x="142.5" y="864.7" font-size="42" text-anchor="end">0.1</text>
<text x="142.5" y="784.0" font-size="42" text-anchor="end">0.2</text>
<text x="142.5" y="703.4" font-size="42" text-anchor="end">0.3</text>
<text x="142.5" y="622.8" font-size="42" text-anchor="end">0.4</text>
<text x="142.5" y="542.1" font-size="42" text-anchor="end">0.5</text>
<text x="142.5" y="461.5" font-size="42" text-anchor="end">0.6</text>
<text x="142.5" y="380.9" font-size="42" text-anchor="end">0.7</text>
<text x="142.5" y="300.3" font-size="42" text-anchor="end">0.8</text>
<text x="142.5" y="219.6" font-size="42" text-anchor="end">0.9</text>
<text x="142.5" y="139.0" font-size="42" text-anchor="end">1.0</text>
<text x="142.5" y="58.4" font-size="42" text-anchor="end">1.1</text>
<text x="174.4" y="1023.5" font-size="54" text-anchor="middle" textLength="95" lengthAdjust="spacingAndGlyphs">400</text>
<text x="328.5" y="1023.5" font-size="54" text-anchor="middle" textLength="95" lengthAdjust="spacingAndGlyphs">450</text>
<text x="482.5" y="1023.5" font-size="54" text-anchor="middle" textLength="95" lengthAdjust="spacingAndGlyphs">500</text>
<text x="636.6" y="1023.5" font-size="54" text-anchor="middle" textLength="95" lengthAdjust="spacingAndGlyphs">550</text>
<text x="790.6" y="1023.5" font-size="54" text-anchor="middle" textLength="95" lengthAdjust="spacingAndGlyphs">600</text>
<text x="944.6" y="1023.5" font-size="54" text-anchor="middle" textLength="95" lengthAdjust="spacingAndGlyphs">650</text>
<text x="1098.7" y="1023.5" font-size="54" text-anchor="middle" textLength="95" lengthAdjust="spacingAndGlyphs">700</text>
<text x="1252.8" y="1023.5" font-size="54" text-anchor="middle" textLength="95" lengthAdjust="spacingAndGlyphs">750</text>
<text x="1406.8" y="1023.5" font-size="54" text-anchor="middle" textLength="95" lengthAdjust="spacingAndGlyphs">800</text>
<text x="792" y="1104" font-size="54" text-anchor="middle" textLength="439" lengthAdjust="spacingAndGlyphs">Wavelength (nm)</text>
<text transform="translate(61.5,506.5) rotate(-90)" font-size="55.5" text-anchor="middle" textLength="440" lengthAdjust="spacingAndGlyphs">Absorbance (a.u.)</text>
<text x="1257.3" y="143" font-size="69" text-anchor="middle" textLength="229" lengthAdjust="spacingAndGlyphs">UV-Vis</text>
<rect x="1047.5" y="367" width="339" height="318" fill="#000"/>
<rect x="1047.5" y="684.6" width="339" height="1.6" fill="#bbb"/>
<rect x="1033.5" y="351.5" width="342" height="321.5" fill="#fff"/>
<rect x="1033.5" y="351.5" width="1.5" height="321.5" fill="#ededed"/>
<rect x="1033.5" y="669.8" width="342" height="3.2" fill="#d0d0d0"/>
<line x1="1070.7" y1="400.2" x2="1184" y2="400.2" stroke="#000000" stroke-width="2.2"/>
<text x="1209" y="415.8" font-size="46"><tspan letter-spacing="0.5">500</tspan> <tspan x="1303.5" font-family="'Liberation Serif', serif" font-size="46">μ</tspan><tspan x="1331.0">l</tspan></text>
<line x1="1070.7" y1="461.7" x2="1184" y2="461.7" stroke="#ff8000" stroke-width="5.5"/>
<text x="1209" y="477.3" font-size="46"><tspan letter-spacing="0.5">800</tspan> <tspan x="1303.5" font-family="'Liberation Serif', serif" font-size="46">μ</tspan><tspan x="1331.0">l</tspan></text>
<line x1="1070.7" y1="522.6" x2="1184" y2="522.6" stroke="#ff0000" stroke-width="2.6"/>
<text x="1209" y="538.2" font-size="46"><tspan letter-spacing="1.2">1000</tspan> <tspan x="1331.5" font-family="'Liberation Serif', serif" font-size="46">μ</tspan><tspan x="1359.0">l</tspan></text>
<line x1="1070.7" y1="583.7" x2="1184" y2="583.7" stroke="#008080" stroke-width="5.5"/>
<text x="1209" y="599.3" font-size="46"><tspan letter-spacing="1.2">1200</tspan> <tspan x="1331.5" font-family="'Liberation Serif', serif" font-size="46">μ</tspan><tspan x="1359.0">l</tspan></text>
<line x1="1070.7" y1="644.9" x2="1184" y2="644.9" stroke="#00ffff" stroke-width="3.2"/>
<text x="1209" y="660.5" font-size="46"><tspan letter-spacing="1.2">1500</tspan> <tspan x="1331.5" font-family="'Liberation Serif', serif" font-size="46">μ</tspan><tspan x="1359.0">l</tspan></text>
</svg>
</body>
</html>
